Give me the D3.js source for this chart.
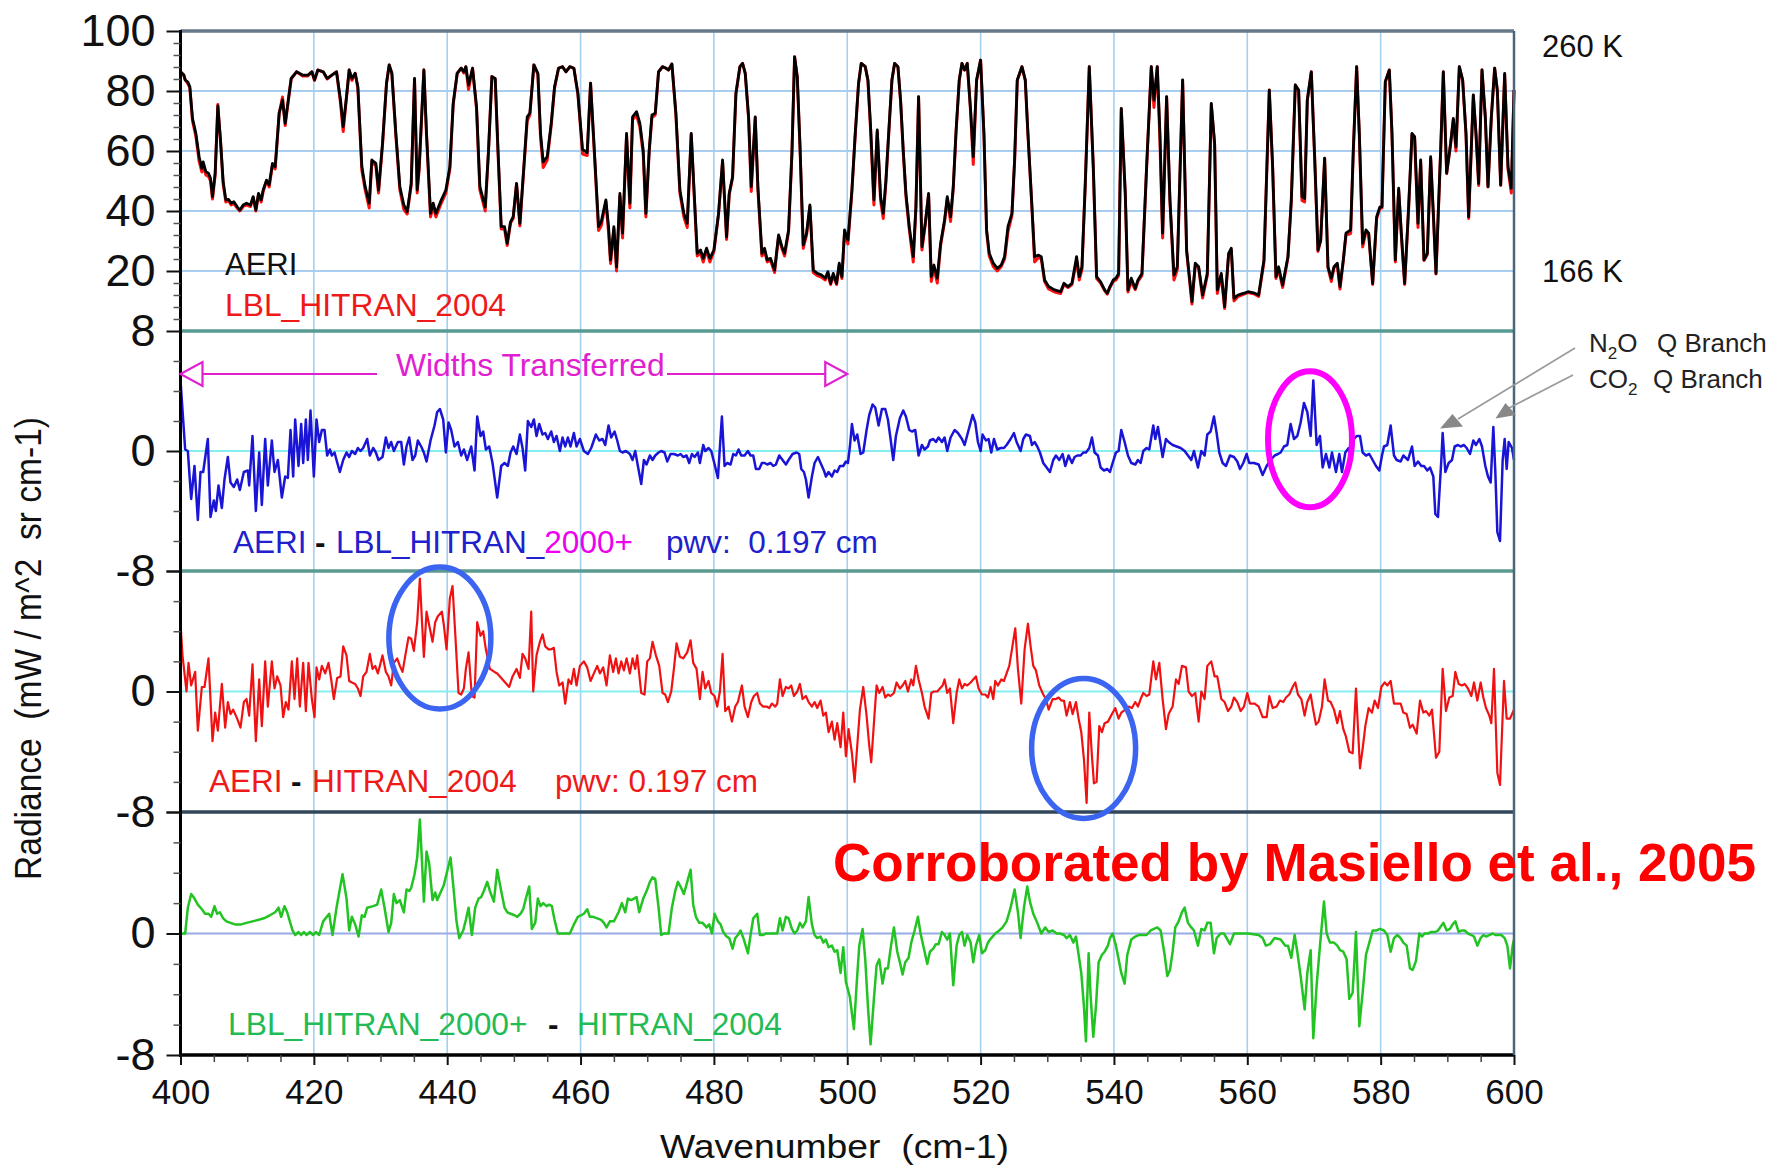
<!DOCTYPE html>
<html>
<head>
<meta charset="utf-8">
<script src="https://cdn.jsdelivr.net/npm/d3@7"></script>
<style>
  body { margin: 0; background: #fff; }
  svg { display: block; }
</style>
</head>
<body>
<div id="chart"></div>
<script>
// ---------------- data ----------------

// tick values
const xTicks = [400, 420, 440, 460, 480, 500, 520, 540, 560, 580, 600];
const xMinorTicks = d3.range(400, 601, 5).filter(d => d % 20 !== 0);
const topTicks = [20, 40, 60, 80, 100];
const topMinorTicks = d3.range(4, 100, 4).filter(d => d % 20 !== 0);
const diffTicks = [-8, 0, 8];
const diffMinorTicks = [-6, -4, -2, 2, 4, 6];

// top panel: [wavenumber, AERI, LBL_HITRAN_2004] radiance
const topRadiance = [
  [400,86.4,86.4],[400.5,85.3,85.3],[400.7,83.7,83.7],[401.1,83,82.5],[401.4,81.4,81],[401.8,70.9,70],[402.3,65.9,65],[402.8,58,56.5],
  [403.2,54.2,53],[403.4,56.4,55.5],[403.8,53.1,52],[404.2,52.6,51.5],[404.5,50.9,50],[404.8,44.8,44],[405.2,52.6,52],[405.6,75,75.5],
  [406,63.7,63],[406.4,49.8,49],[406.8,43.7,43],[407.2,43.9,43.5],[407.6,42.6,42],[408,43.1,42.5],[408.5,41.4,41],[408.9,40.3,40],
  [409.4,42,41.5],[409.9,42.6,42],[410.5,42,41.5],[410.9,44.8,44.5],[411.3,40.3,40],[411.7,45.9,45.5],[412.1,43.7,43],[412.4,47,46.5],
  [412.9,50.3,50],[413.3,48.7,48],[413.8,55.9,55.5],[414.2,54.8,54],[414.8,72.6,72.5],[415.3,77,78],[415.7,69.2,68.5],[416.1,75.9,75.5],
  [416.6,84.2,84],[417.4,86.4,86.4],[418.3,85.3,85],[419.1,85.3,85],[419.7,86.4,86.4],[420.1,83.7,83.5],[420.6,87,87],[421.4,86.4,86.4],
  [422,84.2,84],[422.7,85.3,85.3],[423.4,86.4,86.4],[424,77,76],[424.4,68.1,66.5],[424.9,78.1,78],[425.3,87,87],[425.7,84.2,83.5],
  [426.2,85.9,85.9],[426.6,81.4,81],[427.2,54.8,53.5],[427.7,48.1,47],[428.3,42.6,41],[428.7,57,56.5],[429.3,55.9,55],[429.7,47,46],
  [430.3,62.6,62],[430.9,82.6,82.6],[431.3,88.7,88.7],[431.7,85.9,85.9],[432.3,65.9,65],[432.9,48.1,47],[433.5,42,40.5],[434,39.8,39],
  [434.6,49.2,48.5],[435.1,84.2,84],[435.5,47,46],[435.8,54.8,54],[436.5,87,87],[436.9,65.9,65],[437.5,39.2,38],[437.9,42.6,41.5],
  [438.3,39.2,38],[439,43.1,42],[439.8,47,46],[440.4,54.8,54],[440.9,75.9,75.5],[441.5,85.9,85.9],[442.1,87.6,87.6],[442.5,86.4,86],
  [442.8,88.1,88.1],[443.2,82,80.5],[443.8,87.6,87.6],[444.4,74.8,74],[444.9,48.1,47],[445.7,41.4,40],[446.2,60.3,60],[446.7,84.8,84.8],
  [447.2,84.2,84],[447.6,61.4,60.5],[448.1,34.8,34],[448.6,34.8,34],[449,29.2,28.5],[449.5,36.4,36],[449.9,38.1,37.5],[450.4,49.2,49],
  [450.9,35.9,35],[451.5,54.8,54.5],[452,71.4,70],[452.4,72.6,72],[453,88.7,88.7],[453.6,85.9,85.5],[454,65.9,64.5],[454.4,56.4,54.5],
  [455,58.1,57],[455.6,69.2,68.5],[456.1,81.4,81],[456.7,87.6,87.6],[457.3,88.1,88.1],[457.8,86.4,86.4],[458.4,88.1,88.1],[459,87.6,87.6],
  [459.6,79.2,79],[460.3,60.5,59],[461,59.5,58.5],[461.5,82.6,82.6],[462.1,59,58],[462.7,34.8,33.5],[463.1,36.4,35],[463.8,43.7,43],
  [464.2,34.8,33],[464.5,23.7,22.5],[465,34.8,34],[465.4,21.4,20],[465.9,45.9,45],[466.3,32.6,31],[466.9,65.9,65],[467.4,42.6,41],
  [467.8,71.4,70.5],[468.4,73.1,72],[468.9,69.2,68],[469.4,60.3,59],[469.8,39.2,38],[470.3,60.3,60],[470.7,72,71],[471.2,72.6,72],
  [471.7,86.4,86.4],[472.3,88.1,88.1],[472.8,87.6,87.6],[473.2,87,87],[473.7,89,89],[474.3,72.6,72],[474.9,47,46],[475.5,39.2,38],
  [476,35.9,34.5],[476.6,65.9,65.5],[477,48.1,47],[477.5,25.9,25],[478,27,26],[478.4,24.2,23],[478.9,27.6,27],[479.4,24.2,23],
  [480,27,26.5],[480.7,39.2,39],[481.3,57,56.5],[481.9,31.4,30.5],[482.3,45.9,45.5],[482.8,51.4,51],[483.3,79.2,79],[483.9,88.1,88.1],
  [484.3,89.2,89.2],[484.7,85.9,85.9],[485.2,71.4,71],[485.6,48.1,46.5],[486.2,71.4,71],[486.6,48.1,47],[487.2,25.9,25],[487.6,27.6,26.5],
  [488,23.7,23],[488.5,24.2,23.5],[489.1,20.3,19.5],[489.7,32,31.5],[490.2,28.1,27.5],[490.6,25.9,25],[491.2,33.7,33],[491.7,59.2,59],
  [492.1,91.4,91.4],[492.5,84.8,84.8],[492.9,62.6,62],[493.4,28.7,27.5],[493.9,32.6,32],[494.4,42,41.5],[494.9,20.3,19.5],[495.5,19.2,18.5],
  [496.1,18.7,18],[496.7,17.6,17],[497.1,19.8,19],[497.5,15.9,15.5],[497.9,19.2,18.5],[498.4,15.9,15.5],[498.8,22.6,22],[499.2,18.1,17.5],
  [499.6,33.7,33],[500.1,30.3,29],[500.7,47,46.5],[501.2,65.9,65.5],[501.7,82.6,82.6],[502.1,89.2,89.2],[502.7,88.1,88.1],[503.1,83.7,83.5],
  [503.5,68.1,67],[504,43.7,42],[504.5,67,66.5],[505,44.8,43.5],[505.4,39.2,37.5],[505.8,50.3,49.5],[506.3,69.2,68.5],[506.7,83.7,83.5],
  [507.1,89.2,89.2],[507.6,88.1,88.1],[508,77,76.5],[508.4,60.3,59.5],[508.8,45.9,45],[509.3,34.8,34],[509.9,24.8,23],[510.3,41.4,41],
  [510.7,78.1,78],[511.2,28.1,27],[511.7,35.9,35.5],[512.2,45.9,45.5],[512.6,18.1,16.5],[513,22,21],[513.5,17.6,16],[514,29.2,28.5],
  [514.6,37,36.5],[515,44.8,44],[515.5,38.1,36.5],[515.9,48.1,47.5],[516.3,65.9,65.5],[516.8,83.7,83.5],[517.2,89.2,89.2],[517.6,87,87],
  [518,89.2,89.2],[518.5,73.7,73],[518.9,58.1,55.5],[519.4,83.7,83.5],[520,90.3,90.3],[520.5,65.9,65.5],[520.9,33.7,33],[521.3,25.9,25],
  [521.9,22.6,21.5],[522.5,20.9,20],[523.1,22,21.5],[523.6,24.8,24],[524.1,34.8,33],[524.7,39.2,38.5],[525.1,57,56.5],[525.5,83.7,83.5],
  [526.2,88.1,88.1],[526.7,83.7,83.5],[527.1,65.9,65.5],[527.7,41.4,41],[528.1,24.8,23],[528.7,25.3,24.5],[529.1,24.8,24],[529.6,17,16.5],
  [530.2,14.8,14],[531.1,13.7,13],[532,13.1,12.5],[532.5,15.9,15.5],[533.1,14.8,14.5],[533.7,15.9,15.5],[534.4,24.8,23.5],[534.8,18.1,17],
  [535.2,21.4,20.5],[535.7,49.2,49],[536.3,88.1,88.1],[536.9,54.8,54.5],[537.4,18.1,17.5],[538,16.4,16],[538.6,13.7,13.5],[539,12.6,12.3],
  [539.4,14.8,14.5],[539.9,17,16.5],[540.3,17.6,17],[540.7,19.2,18.5],[541.1,74.2,74],[541.7,45.9,45.5],[542.1,13.7,13],[542.6,17.6,16.5],
  [543.2,14.2,13.8],[543.6,17,16.5],[544.2,19.2,18.5],[544.9,54.8,54.5],[545.6,88.1,88.1],[546,77,74.5],[546.5,88.1,88.1],[546.9,65.9,63],
  [547.3,32.6,31],[547.9,78.1,78],[548.4,43.7,43],[549,18.7,17],[549.5,21.4,20.5],[550.3,83.7,83.5],[550.9,27,26.5],[551.7,9.8,9],
  [552.2,22.6,22],[552.7,21.4,21],[553.3,12,11],[554,19.2,18.5],[554.6,75.9,75.5],[555.1,62.6,62],[555.5,13.7,12.5],[556.1,19.2,18.5],
  [556.6,8.1,7.5],[557.2,25.9,25.5],[557.6,27.6,27],[558,10.9,10],[558.6,12,11.5],[559.5,12.6,12.3],[560.1,13.1,12.8],[561.1,12.6,12.3],
  [561.7,12,11.5],[562.5,23.7,23],[563.3,80.3,80.3],[563.8,54.8,54.5],[564.3,18.1,17.5],[564.7,21.4,20.5],[565.3,15.3,14.5],[566.1,24.8,24.5],
  [566.6,43.7,43.5],[567.2,82,82],[567.7,80.3,80],[568.2,44.8,43.5],[568.6,44.2,43],[569,77,77],[569.6,86.4,86.4],[570.1,58.1,58],
  [570.6,27,26.5],[571,30.3,30],[571.6,57.6,57.5],[572.1,21.4,21],[572.6,17.6,16.5],[573,21.4,21],[573.5,22.6,22],[573.9,14.8,14],
  [574.4,23.7,23.5],[574.8,32.6,32],[575.5,33.7,32.5],[575.9,60.3,60],[576.4,88.1,88.1],[576.8,65.9,65.5],[577.3,29.2,28],[577.8,33.7,33],
  [578.2,32.6,32.5],[578.8,15.9,15.5],[579.4,38.1,37.5],[579.9,41.4,41],[580.2,41.4,41],[580.7,83.1,83.1],[581.3,87,87],[581.7,65.9,65.5],
  [582.2,23.7,23],[582.7,47.6,47],[583.1,32.6,32],[583.6,15.9,15.5],[584.2,41.4,41],[584.7,65.9,65.5],[585.1,64.8,64],[585.6,35.9,34.5],
  [586,57,56.5],[586.5,23.7,23.5],[587,25.9,25.5],[587.5,58.1,57.5],[587.9,39.2,39],[588.3,19.2,19],[589,60.3,60],[589.4,86.4,86.4],
  [589.9,52.6,52.5],[590.5,62.6,62.5],[590.9,70.9,70.5],[591.3,61.4,60],[591.8,88.1,88.1],[592.3,83.7,83.5],[592.8,65.9,65.5],[593.2,38.1,37.5],
  [593.9,78.7,78.5],[594.3,65.9,65.5],[594.7,49.2,48.5],[595.2,87,87],[595.7,71.4,71],[596.1,48.1,48],[596.6,71.4,71],[597.1,87.6,87.6],
  [597.5,80.3,80],[598,48.7,48.5],[598.6,85.9,85.5],[599.1,54.8,54],[599.6,47.6,46],[600,80.3,80.3]
];

// AERI - LBL_HITRAN_2000+ : [wavenumber, difference]
const diffLbl2000 = [
  [400,4.7],[400.7,0.1],[401.1,0],[401.6,-3.2],[402.1,-1],[402.6,-4.6],[403,-1.4],[403.4,-1.4],[404.1,0.8],[404.5,-4.4],[405,-3.3],[405.3,-4],
  [405.7,-2.3],[406.2,-3.8],[406.6,-1.9],[407.1,-0.4],[407.5,-2.1],[408,-2.4],[408.5,-1.9],[408.9,-2.6],[409.5,-1.4],[410.1,-1.3],[410.3,-2.3],[410.8,1],
  [411.3,-4],[411.8,-0.1],[412.2,-3.6],[412.7,0.8],[413.1,-2.3],[413.7,0.7],[414.1,-1.4],[414.6,-0.6],[415.2,-3.1],[415.7,-1.7],[416.1,-1.8],[416.5,1.4],
  [416.9,-1.7],[417.2,2.1],[417.7,-1],[418.1,1.8],[418.4,-0.8],[418.8,2.1],[419.1,-0.6],[419.5,2.7],[420,-1.7],[420.4,2.1],[420.8,0.6],[421.2,1.4],
  [421.6,1.4],[422,-0.3],[422.4,0.1],[422.7,-0.3],[423.1,-0.1],[423.4,-0.6],[423.9,-1.4],[424.4,-0.6],[424.9,-0.1],[425.3,-0.4],[425.7,0],[426.2,-0.2],
  [426.6,0.2],[427,0],[427.4,0.2],[428,0.8],[428.4,-0.3],[428.9,0.2],[429.3,-0.1],[429.7,-0.6],[430.3,-0.4],[430.8,0.9],[431.2,0.2],[431.6,0.6],
  [432,0],[432.6,0.6],[433.1,0.6],[433.5,-0.9],[433.9,0.3],[434.3,0.9],[434.8,-0.6],[435.2,-0.3],[435.6,0.7],[436.1,0.3],[436.5,-0.1],[436.9,-0.7],
  [437.5,0.7],[438.1,1.7],[438.5,2.6],[438.9,2.8],[439.4,2.1],[439.8,-0.1],[440.2,1.9],[440.6,1.4],[441.1,0.3],[441.6,0.6],[442.1,-0.3],[442.5,0.1],
  [443,-0.6],[443.6,0.3],[444.1,-1.3],[444.5,2.3],[445,1],[445.4,1.3],[445.8,0.1],[446.3,0.3],[446.8,-0.8],[447.5,-3.1],[448.1,-1],[448.6,-0.8],
  [449.1,-1],[449.5,-0.1],[449.9,0.3],[450.4,-0.2],[450.9,1.1],[451.3,0.2],[451.7,-1.3],[452.1,2],[452.6,1.6],[453,2.1],[453.4,1],[453.8,1.8],
  [454.3,1.1],[454.7,1.2],[455.1,0.8],[455.6,1.3],[456,0.6],[456.4,1],[456.9,0],[457.3,0.9],[457.7,0.3],[458.1,0.9],[458.5,0.3],[459,1.2],
  [459.4,0.3],[459.9,0.8],[460.5,0],[461.1,-0.2],[461.6,0.2],[462.3,1.1],[462.8,0.7],[463.3,0.8],[463.7,0.4],[464.2,1.7],[464.6,0.9],[465.1,1.3],
  [465.5,0.7],[465.9,0],[466.3,-0.1],[466.8,0],[467.1,-0.1],[467.4,-0.2],[467.8,-0.6],[468.2,0],[468.6,-1],[469.1,-2.2],[469.5,-0.6],[469.9,-0.9],
  [470.4,-0.3],[470.8,-0.6],[471.2,-0.3],[471.7,-0.1],[472.1,0],[472.6,-0.1],[473,-0.7],[473.5,-0.2],[474,-0.2],[474.6,-0.3],[475,-0.2],[475.4,-0.4],
  [475.9,-0.3],[476.3,-0.8],[476.7,-0.2],[477.1,-0.4],[477.6,-0.1],[477.9,-0.8],[478.4,0.4],[478.7,0],[479.2,0.2],[479.6,0],[480,-0.7],[480.6,-1.8],
  [481.2,2.3],[481.6,-1],[482,-0.8],[482.5,-0.9],[482.9,-0.2],[483.3,-0.3],[483.7,0.1],[484.1,-0.3],[484.6,-0.3],[485.1,0],[485.5,-0.3],[485.9,-0.3],
  [486.3,-1.2],[486.8,-1.2],[487.2,-0.8],[487.6,-0.8],[488,-0.9],[488.5,-0.8],[488.9,-1],[489.3,-0.9],[489.8,-0.3],[490.3,-0.6],[490.8,-0.9],[491.2,-0.6],
  [491.8,-0.2],[492.4,-0.1],[492.8,-0.2],[493.1,-1.2],[493.5,-1.4],[493.8,-1.9],[494.2,-3.1],[494.7,-1.7],[495.1,-0.8],[495.6,-0.4],[496.1,-0.9],[496.5,-1.3],
  [496.8,-1.7],[497.2,-1.4],[497.7,-1.7],[498.1,-1.3],[498.5,-1.4],[498.9,-1],[499.4,-1],[499.8,-0.7],[500.1,-0.8],[500.4,0.3],[500.7,1.8],[501.1,0.7],
  [501.5,1.1],[502,-0.2],[502.4,-0.1],[502.9,1.4],[503.3,2.4],[503.8,3.1],[504.2,2.9],[504.7,1.7],[505.2,2.8],[505.7,2.8],[506.1,2.1],[506.5,0.8],
  [506.9,-0.6],[507.3,1],[507.9,2.2],[508.4,2.7],[508.8,2.3],[509.3,1.4],[509.7,1.3],[510.2,1.4],[510.7,-0.3],[511.2,0.4],[511.6,0.1],[512.1,0.3],
  [512.4,0.7],[512.9,0.8],[513.3,0.6],[513.7,0.9],[514.2,0.6],[514.6,0.9],[515,0],[515.5,0.9],[516.1,1.4],[516.6,1.2],[517.2,0.8],[517.6,0.4],
  [518.2,1.4],[518.8,2.4],[519.2,1.9],[519.6,0.6],[520,0],[520.3,1.1],[520.8,0.7],[521.2,0.8],[521.6,-0.1],[522,0.8],[522.5,0.1],[523,0.2],
  [523.5,0.2],[523.9,0.4],[524.5,0.8],[525,1.2],[525.4,0.6],[526,0],[526.4,0.8],[526.8,1.1],[527.4,1],[527.7,0.4],[528.1,0.6],[528.5,0.3],
  [528.9,-0.1],[529.4,-0.8],[529.9,-1.1],[530.4,-1.4],[530.9,-0.6],[531.3,-0.3],[531.8,-0.6],[532.3,-0.2],[532.7,-1],[533.2,-0.3],[533.7,-0.8],[534.1,-0.4],
  [534.5,-0.3],[535,-0.3],[535.4,-0.1],[535.8,-0.1],[536.3,0.2],[536.7,0.9],[537.1,-0.1],[537.6,-0.3],[538,-1.1],[538.5,-1.3],[539,-1.2],[539.4,-1.4],
  [539.8,-0.8],[540.3,-0.1],[540.7,0],[541.1,1.4],[541.6,0.6],[542.1,-0.3],[542.6,-0.8],[543.2,-0.9],[543.6,-0.6],[544,-0.8],[544.4,0],[544.9,0.2],
  [545.3,0.1],[545.9,1.7],[546.2,0.8],[546.6,1.6],[547.3,-0.4],[547.8,0.8],[548.2,0.6],[548.8,0.4],[549.4,0.3],[550,0.2],[550.6,0],[551.1,-0.3],
  [551.6,-0.6],[552,0],[552.6,-1.1],[553.1,0],[553.6,-0.3],[554,1.1],[554.5,1.3],[555,2.3],[555.4,1.2],[555.8,-0.1],[556.3,-0.8],[556.8,-1],
  [557.4,-0.3],[558,-0.4],[558.5,-0.7],[558.9,-1.2],[559.4,-0.8],[559.9,-0.2],[560.3,-0.8],[561,-0.8],[561.7,-0.9],[562.3,-1.6],[562.9,-1],[563.5,-0.6],
  [564.1,-0.3],[564.6,-0.2],[565,-0.1],[565.5,0.3],[566,0.4],[566.5,1.8],[567,0.8],[567.5,1],[568,1.9],[568.5,3.2],[569,2.6],[569.5,1],
  [569.9,4.7],[570.4,0.4],[570.9,1],[571.3,-1.1],[571.8,-0.2],[572.3,-1.1],[572.7,-0.1],[573.3,-1.4],[573.8,-0.2],[574.2,-1.4],[574.7,-0.1],[575.2,0.2],
  [575.6,-0.6],[576,0.8],[576.4,1],[576.9,1],[577.3,-0.1],[577.8,-0.3],[578.3,-0.2],[578.8,-0.6],[579.3,-1],[579.8,-1.3],[580.2,-0.3],[580.5,0.3],
  [581,0.4],[581.5,1.7],[582,-0.3],[582.4,-0.6],[583,-0.7],[583.4,-0.3],[584.1,-0.6],[584.7,0.3],[585.1,-1],[585.6,-0.7],[586.1,-1],[586.5,-1],
  [587,-1.3],[587.4,-1.1],[587.9,-1.7],[588.2,-4.2],[588.6,-4.4],[589.1,-0.6],[589.3,1.2],[589.7,-1.4],[590.2,-0.8],[590.7,-0.6],[591.1,0.3],[591.6,0.4],
  [592,0.3],[592.5,0.4],[592.9,0.2],[593.4,-0.2],[593.9,0.7],[594.3,0.4],[594.8,0.8],[595.2,0.3],[595.7,-1],[596.1,-1.7],[596.5,-2.1],[596.9,1.6],
  [597.2,-1.4],[597.5,-5.4],[597.9,-6],[598.3,-0.6],[598.6,0.8],[598.9,-1.2],[599.2,0.6],[599.7,0.2],[600,-0.6]
];

// AERI - HITRAN_2004 : [wavenumber, difference]
const diffHitran2004 = [
  [400,4.5],[400.3,2.4],[400.9,0],[401.2,1.9],[401.6,0.4],[402.2,1.3],[402.6,-2.6],[403.2,0.3],[403.6,0.3],[404.2,2.2],[404.8,-3.3],[405.2,-1.4],
  [405.6,-2.6],[406.2,0.5],[406.7,-2.4],[407.1,-0.7],[407.5,-1.5],[407.9,-1.2],[408.5,-1.8],[409,-2.4],[409.5,-0.7],[409.9,-0.5],[410.3,-1.6],[410.8,1.8],
  [411.3,-3.3],[411.8,0.8],[412.2,-2.3],[412.7,2],[413.1,-1],[413.7,2],[414.1,0.2],[414.5,1],[415,0.4],[415.4,-1.7],[415.8,-0.7],[416.2,-1.2],
  [416.7,2],[417.1,-0.5],[417.5,2.2],[417.9,-1],[418.4,1.9],[418.8,-1.3],[419.2,1.9],[419.7,-0.5],[420.1,-1.7],[420.4,1.6],[420.8,0.8],[421.2,1.7],
  [421.7,1.2],[422.2,1.9],[422.6,0.8],[423,-0.5],[423.5,0.9],[424,1],[424.4,3],[424.9,2.4],[425.3,0.7],[425.7,0.6],[426.2,0.5],[426.6,0.2],
  [427,-0.3],[427.4,1],[427.9,1.3],[428.4,2.5],[428.8,1.5],[429.2,1.7],[429.6,1.2],[429.9,1.7],[430.3,2.4],[430.8,1.3],[431.2,1],[431.6,0.4],
  [432,1.9],[432.5,2.2],[432.9,1.7],[433.3,1.3],[433.8,2.6],[434.2,3.6],[434.6,3.5],[435,2.7],[435.5,4.6],[435.9,7.5],[436.2,4.8],[436.5,2.3],
  [436.9,5.3],[437.3,4.4],[437.8,3.3],[438.2,4.6],[438.6,5],[439.2,5.3],[439.5,4.4],[439.9,2.8],[440.4,6.2],[440.8,7],[441.2,3.9],[441.7,-0.1],
  [442.1,-0.2],[442.5,0.2],[442.8,1.5],[443.2,2.6],[443.7,-0.3],[444.1,-0.4],[444.5,4.6],[445,3.7],[445.4,4],[445.8,2.8],[446.4,1.5],[447.1,1.3],
  [447.5,1.2],[448.1,0.9],[448.7,0.6],[449.3,0.3],[449.8,1],[450.4,1.5],[450.9,0.9],[451.3,2.5],[451.7,2.2],[452.2,1.5],[452.6,5.3],[452.9,0],
  [453.4,2.4],[453.9,3.3],[454.3,3.8],[454.7,3],[455.2,2.8],[455.6,2.8],[456,2.9],[456.4,1.3],[456.8,0.4],[457.3,0.6],[457.7,-0.8],[458.2,0.8],
  [458.6,0.5],[459,1.5],[459.4,0.4],[459.9,1.7],[460.5,2],[461,1.6],[461.5,0.7],[462.1,1.3],[462.5,1.7],[462.9,1.2],[463.4,1.6],[463.9,0.4],
  [464.4,2.4],[464.9,1.3],[465.3,2.2],[465.7,1.2],[466.1,2],[466.5,1.4],[466.9,2.2],[467.4,1.2],[467.8,2.2],[468.2,1.5],[468.5,2.4],[469.1,-0.1],
  [469.6,-0.2],[470,2],[470.4,2.2],[470.8,3.3],[471.3,2.4],[471.8,1.7],[472.3,-0.1],[472.7,-0.2],[473.1,-0.7],[473.6,0],[474,1.5],[474.4,3.2],
  [474.9,2.3],[475.4,2.2],[476,2.6],[476.5,3.4],[476.9,1.9],[477.4,1.5],[477.9,-0.5],[478.3,1.3],[478.7,0.2],[479.2,0.7],[479.6,-0.1],[480.1,-0.3],
  [480.5,-1],[480.9,0],[481.3,2.5],[481.7,-1.3],[482.2,-1],[482.7,-2],[483.2,-1],[483.6,-0.7],[484.2,0.4],[484.6,-1],[485.1,-1.7],[485.6,-0.7],
  [486,-0.3],[486.5,-0.1],[486.9,-0.8],[487.4,-1],[487.9,-1],[488.3,-1.1],[488.7,-0.8],[489.2,-1],[489.5,-0.8],[489.9,0.8],[490.3,-0.3],[490.8,0.3],
  [491.2,0.2],[491.6,0.4],[492,-0.3],[492.5,0],[492.9,0.5],[493.3,-0.5],[493.8,-0.3],[494.2,-0.7],[494.7,-1],[495.1,-0.7],[495.5,-1.1],[496,-0.6],
  [496.4,-1.6],[496.8,-1.4],[497.2,-2.7],[497.7,-2],[498.1,-3.2],[498.5,-2.1],[499,-3.7],[499.4,-1.4],[499.8,-4.3],[500.2,-2.5],[500.7,-4.1],[501.1,-6],
  [501.5,-3.6],[501.9,-1.2],[502.4,0.3],[502.9,-1.6],[503.3,-3.6],[503.6,-4.7],[504,-2.1],[504.4,0.4],[504.8,-0.1],[505.3,0.3],[505.7,-0.4],[506.1,-0.2],
  [506.5,-0.3],[507,-0.1],[507.4,0.6],[507.9,0.2],[508.3,0.4],[508.7,0.7],[509.1,0],[509.6,0.8],[509.9,0.4],[510.3,1.7],[510.7,0.8],[511.2,-0.1],
  [511.6,-1],[512.2,-1.8],[512.6,-0.1],[513,0],[513.5,0],[513.9,0.2],[514.3,0.4],[514.6,0.8],[515,-0.1],[515.4,0.2],[515.9,-2.1],[516.4,-0.1],
  [516.8,0.8],[517.2,0.2],[517.6,0.5],[518,0.4],[518.5,0.6],[518.9,0.8],[519.3,1],[519.7,0.2],[520.2,-0.2],[520.7,-0.2],[521.1,-0.4],[521.5,0.3],
  [521.9,-0.5],[522.2,0.7],[522.6,0.4],[523.1,0.8],[523.5,0.7],[523.9,1.2],[524.3,1.7],[524.7,2.8],[525.2,4.2],[525.6,1.5],[526.1,-0.8],[526.6,2.8],
  [527.1,4.5],[527.5,3],[527.9,1.7],[528.3,1.4],[528.8,0.4],[529.4,-0.2],[529.8,-0.5],[530.2,-1.2],[530.8,-0.5],[531.3,-0.5],[531.7,-0.4],[532.1,-0.6],
  [532.5,-0.6],[532.9,-1.6],[533.4,-0.7],[533.8,-1.5],[534.3,-0.7],[534.7,-1.8],[535.1,-2.7],[535.5,-4.5],[535.9,-7.4],[536.3,-1.4],[536.7,-4.3],[537,-6.1],
  [537.4,-6],[537.8,-2.3],[538.2,-2.7],[538.6,-2.1],[539.1,-2],[539.7,-1.5],[540.2,-1.1],[540.7,-1.8],[541.1,-1.4],[541.7,-1.2],[542.2,-1],[542.7,-1.1],
  [543.2,-0.7],[543.6,-1],[544,-0.5],[544.4,-0.1],[544.9,-0.3],[545.3,-0.2],[545.9,2],[546.3,0.8],[546.8,1.9],[547.3,-0.5],[547.8,-2.5],[548.2,-1.5],
  [548.8,-1],[549.3,0.8],[549.7,0.5],[550.2,1.7],[550.8,1.6],[551.2,0],[551.7,-0.3],[552.2,-0.1],[552.7,-2],[553.1,0],[553.6,-0.5],[554,1.7],
  [554.6,2],[555.1,1],[555.5,1],[556.1,-0.5],[556.6,-0.7],[557.1,-1.3],[557.6,-1],[558,-0.4],[558.5,-0.7],[559,-1.3],[559.5,-1],[560,-0.1],
  [560.4,-0.8],[561.1,-0.8],[561.7,-1],[562.3,-1.7],[562.9,-1.7],[563.3,-0.3],[563.8,-1.1],[564.4,-1],[564.9,-0.6],[565.4,-0.7],[565.8,-0.4],[566.3,-0.2],
  [566.8,0.3],[567.2,0.6],[567.6,-0.2],[568.1,-0.5],[568.6,-1.6],[569,-0.7],[569.5,-0.2],[569.8,-1],[570.3,-2.2],[570.7,-2],[571.2,-1],[571.6,0.8],
  [572.1,-0.6],[572.5,-0.7],[573,-1.2],[573.5,-2.1],[573.9,-1.3],[574.4,-2.5],[574.8,-3],[575.3,-4],[575.8,-4.1],[576.3,0.2],[576.9,-5.1],[577.3,-3.8],
  [577.7,-2.3],[578.2,-1.1],[578.7,-1.4],[579.1,-0.6],[579.6,-1.1],[580.1,0.3],[580.6,0.6],[581,0.4],[581.5,0.7],[582,-0.8],[582.4,-0.8],[583,-0.8],
  [583.4,-1.4],[583.9,-1.5],[584.4,-2.4],[584.8,-2.2],[585.4,-2.8],[585.9,-0.6],[586.4,-1.4],[586.8,-1.3],[587.3,-1.6],[587.7,-1.2],[588.3,-4.4],[588.8,-4],
  [589.3,1.5],[589.8,-1.3],[590.3,-0.4],[590.8,-0.3],[591.2,1.3],[591.7,0.5],[592.2,0.4],[592.6,0.5],[593.1,0.2],[593.6,-0.3],[594,0.6],[594.5,-0.6],
  [595,0.6],[595.4,-0.4],[595.8,-1.1],[596.3,-1.6],[596.6,-2.1],[597,1.5],[597.5,-5.4],[597.9,-6.2],[598.5,0.7],[598.9,-1.8],[599.4,-1.8],[600,-1.2]
];

// LBL_HITRAN_2000+ - HITRAN_2004 : [wavenumber, difference]
const diffModels = [
  [400,0],[400.7,0],[401.1,1.7],[401.6,2.6],[402.1,2.3],[402.6,1.9],[403.2,1.6],[403.7,1.3],[404.2,1.3],[404.6,1.1],[405.1,1.8],[405.5,1.3],
  [405.9,1.4],[406.4,1],[406.9,0.8],[407.5,0.7],[408.2,0.6],[409.1,0.6],[409.9,0.7],[410.8,0.8],[411.7,0.9],[412.5,1],[413.4,1.2],[414.2,1.4],
  [414.7,1.7],[415.1,1.1],[415.6,1.8],[416,1.4],[416.4,0.8],[416.8,0.2],[417.2,-0.1],[417.7,0.1],[418.1,-0.1],[418.5,0.1],[418.9,-0.1],[419.4,0.1],
  [419.9,-0.1],[420.3,0.1],[420.8,-0.1],[421.4,0.8],[422.3,1.3],[422.8,-0.1],[423.4,1.7],[424.3,3.9],[424.9,2.3],[425.3,0.2],[425.7,1.1],[426.2,0.6],
  [426.7,-0.2],[427.2,1.2],[427.6,1.1],[428,1.7],[428.9,1.8],[429.5,1.9],[430.1,2.9],[430.6,1.7],[431.2,0.1],[431.6,0.7],[432,2.6],[432.4,2],
  [432.9,2.2],[433.5,1.4],[433.9,2.9],[434.3,2.8],[434.6,3],[435.1,3.9],[435.5,5],[435.9,7.5],[436.2,4.9],[436.5,2.1],[436.9,5.4],[437.3,4.6],
  [437.8,2.2],[438.2,2.7],[438.5,2.2],[438.9,2.6],[439.5,3.2],[440,4.1],[440.5,5],[440.9,3.2],[441.4,0.8],[441.8,-0.3],[442.4,0.2],[442.8,0.9],
  [443.2,1.7],[443.7,-0.1],[444.2,1.7],[444.7,2.3],[445.1,2.4],[445.5,2.8],[446,3.4],[446.4,2.8],[447,2.1],[447.5,4.2],[448.1,2.8],[448.6,1.7],
  [449,1.4],[449.5,1.3],[450.1,1.2],[450.5,1.1],[451,1.3],[451.4,1.6],[451.8,2.3],[452.3,3.1],[452.7,0.3],[453.2,0.7],[453.6,2.3],[454,1.8],
  [454.4,2],[454.9,1.8],[455.3,1.9],[455.7,1.8],[456.1,0.9],[456.6,0],[457.3,0],[457.8,0],[458.4,0],[459,0.6],[459.6,1.1],[460.5,1.3],
  [461,1.6],[461.4,1.1],[461.9,1.1],[462.5,1],[463.1,0.9],[463.5,0.7],[463.9,0.4],[464.4,0.8],[465,0.8],[465.7,1.4],[466.2,2],[466.7,1.4],
  [467.1,2.3],[467.6,2.2],[468,2.3],[468.4,2.4],[468.8,1.4],[469.4,2.3],[470,2.9],[470.4,3.4],[470.8,3.7],[471.2,3.6],[471.7,1.7],[472.1,-0.1],
  [472.5,0],[473.2,0],[473.7,1.7],[474.2,2.8],[474.6,3.4],[475.1,3],[475.5,2.6],[476,3.4],[476.5,4.2],[476.9,1.9],[477.3,1.1],[477.8,0.7],
  [478.3,0.7],[478.9,0.4],[479.3,0.6],[479.7,0],[480.1,1.3],[480.6,0.8],[481,0.6],[481.4,0.1],[481.9,-0.2],[482.3,-0.3],[482.8,-1],[483.2,-0.3],
  [483.6,-0.1],[484,0.2],[484.5,-0.4],[485.1,-1.3],[485.5,-0.1],[485.9,1],[486.5,1.3],[486.9,-0.1],[487.4,-0.1],[487.8,0],[488.3,0],[488.9,0],
  [489.5,0],[489.9,1],[490.3,0.2],[490.8,1.1],[491.2,1],[491.7,0.3],[492.1,0],[492.5,0.2],[492.9,0.7],[493.3,0.4],[493.8,0.8],[494.2,2.4],
  [494.7,0.6],[495.1,-0.1],[495.5,-0.3],[496,-0.2],[496.4,-0.6],[496.8,-0.4],[497.2,-0.9],[497.7,-0.8],[498.1,-1.2],[498.5,-1.1],[499,-2.6],[499.4,-0.9],
  [499.8,-3.2],[500.4,-4.2],[501,-6.3],[501.4,-3.4],[501.8,-0.8],[502.3,0.3],[502.7,-1.7],[503.1,-4.8],[503.5,-7.3],[504,-4.3],[504.4,-2.1],[504.8,-1.7],
  [505.3,-3.3],[505.7,-2.3],[506.1,-2.3],[506.5,-1],[507,0.4],[507.5,-1.2],[507.9,-1.9],[508.3,-2.7],[508.7,-1.9],[509.2,-1.6],[509.6,-0.6],[510.1,0.2],
  [510.6,1.1],[511,0],[511.5,-1],[512,-2],[512.4,-1.2],[512.9,-1],[513.3,-0.7],[513.7,-0.7],[514.2,0.1],[514.6,-0.1],[515,-0.4],[515.4,0],
  [515.9,-3.4],[516.4,-0.8],[516.8,-0.1],[517.2,0.1],[517.6,-0.8],[518,-0.1],[518.5,-0.6],[518.9,-1.9],[519.3,-0.8],[519.8,-0.1],[520.2,-1.3],[520.7,-1.1],
  [521.1,-0.6],[521.6,-0.3],[522.2,0],[522.8,0.2],[523.3,0.4],[523.9,0.8],[524.5,1.7],[525.1,2.9],[525.6,1.4],[526,-0.3],[526.5,1.7],[527,3.1],
  [527.4,2.1],[527.9,1.3],[528.5,0.7],[529.1,0],[529.7,0.4],[530.2,0.1],[530.8,0.2],[531.4,0],[531.9,0],[532.5,-0.1],[532.9,-0.3],[533.4,-0.1],
  [533.9,-0.6],[534.3,-0.2],[534.7,-1.4],[535.1,-2.6],[535.5,-4.8],[535.8,-7.1],[536.2,-1.3],[536.5,-4.1],[536.9,-6.8],[537.3,-4.8],[537.7,-1.9],[538.2,-1.4],
  [538.6,-1.2],[539.1,-0.8],[539.4,-0.3],[539.8,0],[540.3,-0.8],[540.7,-1.7],[541.1,-2.6],[541.6,-3.3],[542,-1.4],[542.6,-0.4],[543.2,-0.2],[543.7,-0.1],
  [544.3,-0.1],[544.9,-0.1],[545.5,0.2],[546,0.3],[546.5,0.4],[547,0.2],[547.6,-1.4],[548,-2.8],[548.4,-2.4],[548.8,-1.2],[549.2,0.4],[549.7,0.8],
  [550.2,1.4],[550.6,1.7],[551.1,0.7],[551.6,0.4],[552,0.2],[552.6,-0.8],[553.1,0.3],[553.6,0.2],[554,0.7],[554.5,0.7],[555,-1.3],[555.4,-0.3],
  [556,0],[556.5,0],[556.9,-0.3],[557.4,-0.7],[558,0],[558.9,0],[560.1,0],[561.7,-0.1],[562.3,-0.3],[562.8,-0.8],[563.4,-0.7],[564.1,-0.3],
  [565,-0.4],[565.7,-0.8],[566.1,-0.8],[566.6,-1.6],[567.1,-0.1],[567.5,-1.2],[568,-2.8],[568.6,-5],[569,-2.6],[569.5,-1.1],[569.9,-6.9],[570.4,-3.4],
  [570.9,-0.8],[571.5,2.1],[571.9,0],[572.4,-0.6],[573,-0.6],[573.5,-0.8],[573.9,-1.1],[574.4,-1.2],[574.9,-1.7],[575.3,-4.3],[575.8,-3.9],[576.3,0.1],
  [576.8,-6.1],[577.3,-3.9],[577.8,-1.4],[578.3,-0.6],[578.8,0.2],[579.4,0.2],[579.9,0.3],[580.5,0.2],[581,-0.1],[581.5,-1.2],[582,-0.3],[582.5,-0.1],
  [583,-0.3],[583.4,-0.6],[583.9,-0.8],[584.4,-2.3],[584.8,-2.4],[585.3,-1.8],[585.8,0],[586.2,-0.2],[586.6,0],[587.1,0],[587.6,0.1],[588.2,0.1],
  [588.6,0.2],[589.4,0.7],[589.9,0.2],[590.4,0.3],[590.8,0.6],[591.2,0.8],[591.7,0.1],[592.2,0.2],[592.6,0.2],[593.1,0],[593.6,-0.1],[594,-0.2],
  [594.5,-0.8],[595,-0.3],[595.4,-0.1],[595.9,-0.2],[596.3,-0.1],[596.8,0],[597.2,-0.1],[597.7,-0.1],[598.1,-0.1],[598.6,-0.3],[599,-0.8],[599.4,-2.3],
  [599.8,-0.8],[600,-0.4]
];

// ---------------- layout ----------------
const width = 1791;
const height = 1170;
const plotLeft = 180.5;
const plotRight = 1514;
const fontStack = "'Liberation Sans', Arial, Helvetica, sans-serif";

const svg = d3.select("#chart").append("svg")
    .attr("width", width)
    .attr("height", height)
    .attr("font-family", fontStack);

svg.append("rect")
    .attr("width", width)
    .attr("height", height)
    .attr("fill", "white");

// scales: one x for everything, one y per stacked panel
const x = d3.scaleLinear().domain([400, 600]).range([plotLeft, plotRight]);
const yTop = d3.scaleLinear().domain([0, 100]).range([331, 31]);
const yBlue = d3.scaleLinear().domain([-8, 8]).range([571, 331]);
const yRed = d3.scaleLinear().domain([-8, 8]).range([812, 571]);
const yGreen = d3.scaleLinear().domain([-8, 8]).range([1055, 812]);

// ---------------- grid ----------------
const grid = svg.append("g");

grid.selectAll(".vgrid")
    .data(xTicks.slice(1, -1))
    .join("line")
    .attr("x1", d => x(d)).attr("x2", d => x(d))
    .attr("y1", yTop(100)).attr("y2", yGreen(-8))
    .attr("stroke", "#a4d0ef")
    .attr("stroke-width", 1.6);

grid.selectAll(".hgrid")
    .data(topTicks.slice(0, -1))
    .join("line")
    .attr("x1", plotLeft).attr("x2", plotRight)
    .attr("y1", d => yTop(d)).attr("y2", d => yTop(d))
    .attr("stroke", "#a9cdee")
    .attr("stroke-width", 2);

// zero lines of the difference panels
[[yBlue, "#86eef0"], [yRed, "#86eef0"], [yGreen, "#98ace6"]].forEach(([s, c]) => {
  grid.append("line")
      .attr("x1", plotLeft).attr("x2", plotRight)
      .attr("y1", s(0)).attr("y2", s(0))
      .attr("stroke", c)
      .attr("stroke-width", 2.2);
});

// ---------------- lines ----------------
svg.append("path")
    .datum(topRadiance)
    .attr("d", d3.line().x(d => x(d[0])).y(d => yTop(d[2])))
    .attr("fill", "none")
    .attr("stroke", "#ff1010")
    .attr("stroke-width", 3)
    .attr("stroke-linejoin", "round");

svg.append("path")
    .datum(topRadiance)
    .attr("d", d3.line().x(d => x(d[0])).y(d => yTop(d[1])))
    .attr("fill", "none")
    .attr("stroke", "#000")
    .attr("stroke-width", 2.8)
    .attr("stroke-linejoin", "round");

const diffSeries = [
  { data: diffLbl2000, y: yBlue, color: "#1a14d6", w: 2.5 },
  { data: diffHitran2004, y: yRed, color: "#f01212", w: 2.2 },
  { data: diffModels, y: yGreen, color: "#22c322", w: 2.5 }
];
diffSeries.forEach(s => {
  svg.append("path")
      .datum(s.data)
      .attr("d", d3.line().x(d => x(d[0])).y(d => s.y(d[1])))
      .attr("fill", "none")
      .attr("stroke", s.color)
      .attr("stroke-width", s.w)
      .attr("stroke-linejoin", "round");
});

// ---------------- frame ----------------
const frame = svg.append("g");
[[31, "#66798a"], [331, "#579a91"], [571, "#5a9a90"], [812, "#31465a"], [1055, "#000"]].forEach(([yy, c]) => {
  frame.append("line")
      .attr("x1", plotLeft).attr("x2", plotRight)
      .attr("y1", yy).attr("y2", yy)
      .attr("stroke", c)
      .attr("stroke-width", 3.5);
});
frame.append("line")
    .attr("x1", plotRight).attr("x2", plotRight)
    .attr("y1", 31).attr("y2", 1055)
    .attr("stroke", "#4b6579")
    .attr("stroke-width", 2.5);
frame.append("line")
    .attr("x1", plotLeft).attr("x2", plotLeft)
    .attr("y1", 30).attr("y2", 1057)
    .attr("stroke", "#000")
    .attr("stroke-width", 3);

// ---------------- axes ----------------
function styleAxis(g, size) {
  g.select(".domain").remove();
  g.attr("font-family", fontStack);
  g.selectAll("text").attr("font-size", size).attr("fill", "#111");
}

// plain hyphen minus like the original; the top "8" of a lower panel sits
// under the "-8" of the panel above, so only the "-8" is written there
function leftAxis(scale, major, minor, skipTop) {
  const gMinor = svg.append("g").attr("transform", `translate(${plotLeft},0)`)
      .call(d3.axisLeft(scale).tickValues(minor).tickSize(7).tickFormat(""));
  gMinor.select(".domain").remove();
  gMinor.selectAll("line").attr("stroke", "#555").attr("stroke-width", 1.5);

  const fmt = d => (skipTop && d === 8) ? "" : String(d);
  const gMajor = svg.append("g").attr("transform", `translate(${plotLeft},0)`)
      .call(d3.axisLeft(scale).tickValues(major).tickSize(14).tickPadding(11).tickFormat(fmt));
  styleAxis(gMajor, 45);
  gMajor.selectAll("line").attr("stroke", "#111").attr("stroke-width", 2);
}

leftAxis(yTop, topTicks, topMinorTicks, false);
leftAxis(yBlue, diffTicks, diffMinorTicks, false);
leftAxis(yRed, diffTicks, diffMinorTicks, true);
leftAxis(yGreen, diffTicks, diffMinorTicks, true);

const xMinor = svg.append("g").attr("transform", "translate(0,1055)")
    .call(d3.axisBottom(x).tickValues(xMinorTicks).tickSize(7).tickFormat(""));
xMinor.select(".domain").remove();
xMinor.selectAll("line").attr("stroke", "#444").attr("stroke-width", 1.5);

const xMajor = svg.append("g").attr("transform", "translate(0,1055)")
    .call(d3.axisBottom(x).tickValues(xTicks).tickSize(10).tickPadding(14));
styleAxis(xMajor, 35);
xMajor.selectAll("line").attr("stroke", "#111").attr("stroke-width", 2);

// axis titles
svg.append("text")
    .attr("x", 834.5).attr("y", 1158)
    .attr("text-anchor", "middle")
    .attr("font-size", 33)
    .attr("fill", "#111")
    .attr("textLength", 349)
    .attr("lengthAdjust", "spacingAndGlyphs")
    .style("white-space", "pre")
    .text("Wavenumber  (cm-1)");

svg.append("text")
    .attr("transform", "translate(41,648.5) rotate(-90)")
    .attr("text-anchor", "middle")
    .attr("font-size", 36)
    .attr("fill", "#111")
    .attr("textLength", 463)
    .attr("lengthAdjust", "spacingAndGlyphs")
    .style("white-space", "pre")
    .text("Radiance  (mW / m^2  sr cm-1)");

// ---------------- labels ----------------
function label(px, py, txt, color, size, weight) {
  return svg.append("text")
      .attr("x", px).attr("y", py)
      .attr("font-size", size)
      .attr("font-weight", weight || "normal")
      .attr("fill", color)
      .style("white-space", "pre")
      .text(txt);
}

const blueTxt = "#2020cc";
const redTxt = "#ee1a1a";
const greenTxt = "#22bb55";
const magenta = "#e020d0";

label(1542, 57, "260 K", "#111", 31);
label(1542, 282, "166 K", "#111", 31);
label(225, 275, "AERI", "#111", 31);
label(225, 316, "LBL_HITRAN_2004", redTxt, 31.8);

label(233, 553, "AERI", blueTxt, 31.5);
label(315, 553, "-", "#111", 31.5, "bold");
label(336, 553, "LBL_HITRAN_", blueTxt, 31.5)
    .append("tspan").attr("fill", "#ee00ee").text("2000+");
label(666, 553, "pwv:  0.197 cm", blueTxt, 31.5);

label(209, 792, "AERI", redTxt, 31.5);
label(291, 792, "-", "#111", 31.5, "bold");
label(312, 792, "HITRAN_2004", redTxt, 31.5);
label(555, 792, "pwv: 0.197 cm", redTxt, 31.5);

label(228, 1035, "LBL_HITRAN_2000+", greenTxt, 31.8);
label(548, 1035, "-", "#111", 31.5, "bold");
label(577, 1035, "HITRAN_2004", greenTxt, 31.5);

label(833, 881, "Corroborated by Masiello et al., 2005", "#ff0000", 53, "bold")
    .attr("textLength", 923)
    .attr("lengthAdjust", "spacingAndGlyphs");

// Widths Transferred double arrow (400 to 500 cm-1)
const arrowY = 374;
label(396, 376, "Widths Transferred", magenta, 31.8);
const arrowG = svg.append("g")
    .attr("stroke", magenta)
    .attr("stroke-width", 2.2)
    .attr("fill", "white");
arrowG.append("line").attr("x1", x(400) + 22).attr("x2", 377).attr("y1", arrowY).attr("y2", arrowY);
arrowG.append("line").attr("x1", 667).attr("x2", x(500) - 22).attr("y1", arrowY).attr("y2", arrowY);
arrowG.append("path")
    .attr("d", `M${x(400)},${arrowY} L${x(400) + 22},${arrowY - 12} L${x(400) + 22},${arrowY + 12} Z`);
arrowG.append("path")
    .attr("d", `M${x(500)},${arrowY} L${x(500) - 22},${arrowY - 12} L${x(500) - 22},${arrowY + 12} Z`);

// Q branch labels with grey pointers
const qLabel = (px, py, a, b, qx) => {
  const t = svg.append("text").attr("x", px).attr("y", py)
      .attr("font-size", 26).attr("fill", "#222");
  t.append("tspan").text(a);
  t.append("tspan").attr("font-size", 17).attr("dy", 7).text("2");
  t.append("tspan").attr("dy", -7).text(b);
  svg.append("text").attr("x", qx).attr("y", py)
      .attr("font-size", 26).attr("fill", "#222").text("Q Branch");
};
qLabel(1589, 352, "N", "O", 1657);
qLabel(1589, 388, "CO", "", 1653);

const pointers = svg.append("g");
pointers.append("line").attr("x1", 1575).attr("y1", 348).attr("x2", 1458).attr("y2", 419)
    .attr("stroke", "#9a9a9a").attr("stroke-width", 1.6);
pointers.append("line").attr("x1", 1573).attr("y1", 375).attr("x2", 1509).attr("y2", 408)
    .attr("stroke", "#9a9a9a").attr("stroke-width", 1.6);
pointers.append("path").attr("d", "M1440,428.5 L1463,426.5 L1452.5,414 Z").attr("fill", "#888");
pointers.append("path").attr("d", "M1495.5,418.5 L1516,415 L1505.5,403 Z").attr("fill", "#888");

// highlight ellipses, placed in data coordinates
const ellipses = [
  { wn: 569.4, v: 0.78, y: yBlue, rx: 42, ry: 68, color: "#ff00ff", w: 6 },
  { wn: 438.9, v: 3.55, y: yRed, rx: 51, ry: 71, color: "#3b64f0", w: 5.5 },
  { wn: 535.45, v: -3.78, y: yRed, rx: 52, ry: 70, color: "#3b64f0", w: 5.5 }
];
svg.append("g").selectAll("ellipse")
    .data(ellipses)
    .join("ellipse")
    .attr("cx", d => x(d.wn))
    .attr("cy", d => d.y(d.v))
    .attr("rx", d => d.rx)
    .attr("ry", d => d.ry)
    .attr("fill", "none")
    .attr("stroke", d => d.color)
    .attr("stroke-width", d => d.w);
</script>
</body>
</html>
